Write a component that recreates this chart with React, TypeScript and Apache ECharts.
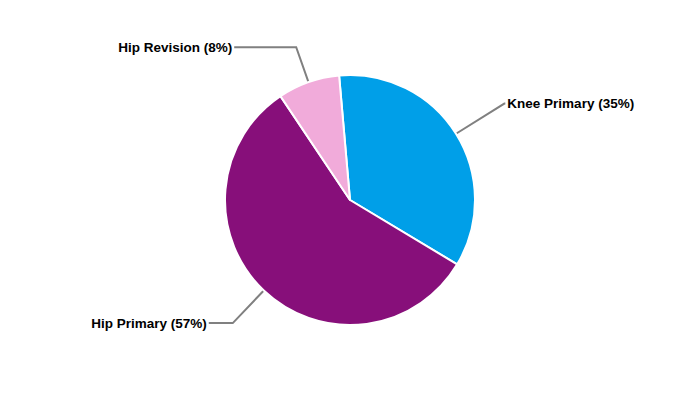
import React, { useEffect, useRef } from "react";
import * as echarts from "echarts";

const categories = ["Knee Primary", "Hip Primary", "Hip Revision"];
const values = [35, 57, 8];
const colors = ["#009FE8", "#870F7A", "#F1ABDA"];
const lineLengths = [
  [57, 1],
  [45, 24],
  [37, 62],
];

export default function App() {
  const ref = useRef<HTMLDivElement>(null);
  useEffect(() => {
    const chart = echarts.init(ref.current!, null, { renderer: "svg" });
    chart.setOption({
      animation: false,
      series: [
        {
          type: "pie",
          center: [350, 200],
          radius: 125,
          startAngle: 95,
          clockwise: true,
          avoidLabelOverlap: false,
          itemStyle: { borderColor: "#ffffff", borderWidth: 2 },
          label: {
            formatter: "{b} ({c}%)",
            fontFamily: "Liberation Sans, Arial, sans-serif",
            fontWeight: "bold",
            fontSize: 13.5,
            color: "#000000",
            distanceToLabelLine: 2,
          },
          labelLine: { lineStyle: { color: "#808080", width: 2 } },
          data: categories.map((name, i) => ({
            name,
            value: values[i],
            itemStyle: { color: colors[i] },
            labelLine: { length: lineLengths[i][0], length2: lineLengths[i][1] },
          })),
        },
      ],
    });
    return () => chart.dispose();
  }, []);
  return <div ref={ref} style={{ width: 700, height: 400, margin: -8 }} />;
}
